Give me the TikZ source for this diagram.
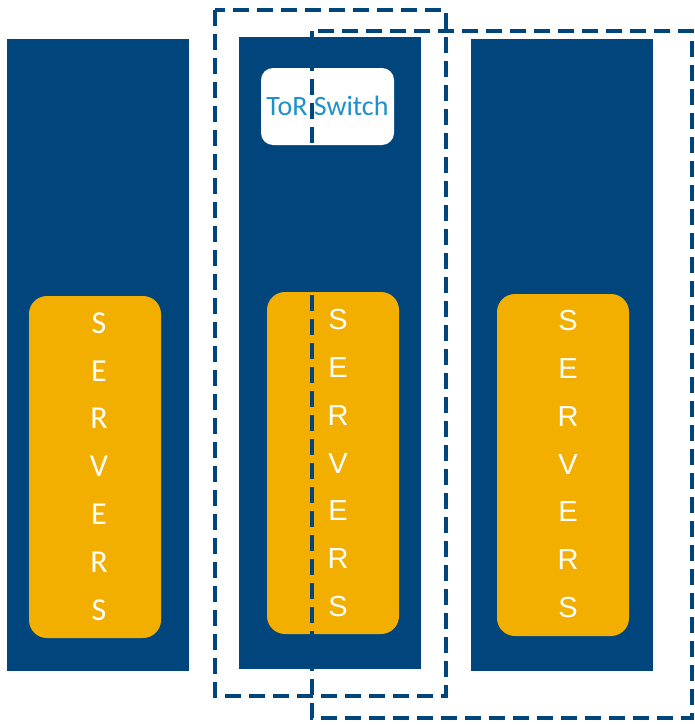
\documentclass[tikz,border=0pt]{standalone}
\usepackage{fontspec}
\setmainfont{Carlito}
\newfontfamily\arialfont{Liberation Sans}
\usepackage{tikz}
\usetikzlibrary{positioning}

\definecolor{rackblue}{RGB}{0,70,125}
\definecolor{srvyellow}{RGB}{242,175,0}
\definecolor{torblue}{RGB}{30,144,202}

\tikzset{
  rack/.style={fill=rackblue, draw=none},
  srvbox/.style={fill=srvyellow, draw=none, rounded corners=18pt},
  torbox/.style={fill=white, draw=none, rounded corners=12pt},
  zone/.style={draw=rackblue, line width=3.5pt, dash pattern=on 16pt off 8pt},
  srvletter/.style={text=white, inner sep=0pt}
}

\begin{document}
\begin{tikzpicture}[x=1pt, y=-1pt]
\useasboundingbox (0,0) rectangle (695,725);
% racks
\fill[rack] (7,39) rectangle (189,671);
\fill[rack] (239,37) rectangle (421,669);
\fill[rack] (471,39) rectangle (653,671);
% server blocks
\fill[srvbox] (29,296) rectangle (161,638);
\fill[srvbox] (267,292) rectangle (399,634);
\fill[srvbox] (497,294) rectangle (629,636);
% ToR switch
\fill[torbox] (261,68) rectangle (394,145);
\node[text=torblue, font=\fontsize{28}{32}\selectfont] (tor) at (327.5,106) {ToR Switch};
% vertical labels
\foreach \c [count=\i] in {S,E,R,V,E,R,S} {
  \node[srvletter, font=\fontsize{32}{36}\selectfont] (sa\i) at (99,{323+47.8*(\i-1)}) {\c};
  \node[srvletter, font=\arialfont\fontsize{29}{34}\selectfont] (sb\i) at (338,{320+47.7*(\i-1)}) {\c};
  \node[srvletter, font=\arialfont\fontsize{29}{34}\selectfont] (sc\i) at (568,{321+47.7*(\i-1)}) {\c};
}
% dashed groups
\draw[zone] (215,10) rectangle (446,696);
\draw[zone] (312,31) rectangle (692,718);
\end{tikzpicture}
\end{document}
